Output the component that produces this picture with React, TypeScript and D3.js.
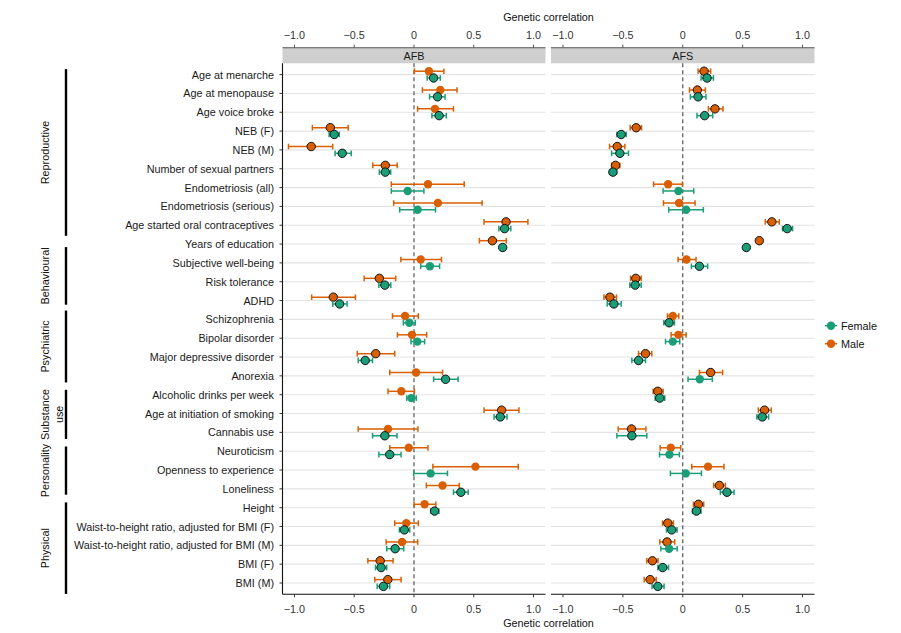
import React from "react";
import * as d3 from "d3";

const traits = [
  "Age at menarche", "Age at menopause", "Age voice broke", "NEB (F)", "NEB (M)",
  "Number of sexual partners", "Endometriosis (all)", "Endometriosis (serious)",
  "Age started oral contraceptives", "Years of education", "Subjective well-being",
  "Risk tolerance", "ADHD", "Schizophrenia", "Bipolar disorder", "Major depressive disorder",
  "Anorexia", "Alcoholic drinks per week", "Age at initiation of smoking", "Cannabis use",
  "Neuroticism", "Openness to experience", "Loneliness", "Height",
  "Waist-to-height ratio, adjusted for BMI (F)", "Waist-to-height ratio, adjusted for BMI (M)",
  "BMI (F)", "BMI (M)",
];

// [estimate, lower, upper, significant]
const afbMale: number[][] = [
  [0.125, 0.003, 0.25, 0], [0.22, 0.07, 0.36, 0], [0.175, 0.03, 0.33, 0],
  [-0.7, -0.85, -0.55, 1], [-0.86, -1.05, -0.68, 1], [-0.24, -0.345, -0.14, 1],
  [0.117, -0.19, 0.42, 0], [0.2, -0.17, 0.57, 0], [0.77, 0.586, 0.953, 1],
  [0.656, 0.547, 0.772, 1], [0.056, -0.11, 0.23, 0], [-0.29, -0.417, -0.153, 1],
  [-0.675, -0.856, -0.49, 1], [-0.075, -0.18, 0.036, 0], [-0.017, -0.139, 0.106, 0],
  [-0.32, -0.475, -0.161, 1], [0.017, -0.203, 0.239, 0], [-0.106, -0.217, 0.003, 0],
  [0.733, 0.586, 0.878, 1], [-0.217, -0.467, 0.033, 0], [-0.044, -0.203, 0.117, 0],
  [0.514, 0.158, 0.872, 0], [0.239, 0.103, 0.378, 0], [0.089, 0.0, 0.183, 0],
  [-0.064, -0.161, 0.036, 0], [-0.1, -0.233, 0.031, 0], [-0.283, -0.386, -0.175, 1],
  [-0.219, -0.328, -0.108, 1],
];
const afbFemale: number[][] = [
  [0.164, 0.11, 0.22, 1], [0.197, 0.13, 0.26, 1], [0.21, 0.15, 0.27, 1],
  [-0.667, -0.71, -0.625, 1], [-0.6, -0.66, -0.525, 1], [-0.24, -0.29, -0.195, 1],
  [-0.053, -0.19, 0.083, 0], [0.03, -0.12, 0.18, 0], [0.758, 0.71, 0.81, 1],
  [0.742, 0.735, 0.75, 1], [0.133, 0.056, 0.214, 0], [-0.244, -0.294, -0.194, 1],
  [-0.622, -0.68, -0.56, 1], [-0.039, -0.089, 0.011, 0], [0.028, -0.025, 0.089, 0],
  [-0.408, -0.467, -0.347, 1], [0.264, 0.164, 0.369, 1], [-0.022, -0.061, 0.019, 0],
  [0.722, 0.67, 0.778, 1], [-0.244, -0.347, -0.142, 1], [-0.203, -0.294, -0.108, 1],
  [0.139, -0.003, 0.28, 0], [0.392, 0.33, 0.453, 1], [0.172, 0.142, 0.208, 1],
  [-0.081, -0.122, -0.036, 1], [-0.158, -0.228, -0.086, 1], [-0.275, -0.322, -0.228, 1],
  [-0.256, -0.308, -0.203, 1],
];
const afsMale: number[][] = [
  [0.178, 0.128, 0.233, 1], [0.122, 0.056, 0.189, 1], [0.269, 0.214, 0.336, 1],
  [-0.389, -0.439, -0.344, 1], [-0.547, -0.611, -0.483, 1], [-0.561, -0.594, -0.525, 1],
  [-0.122, -0.244, -0.003, 0], [-0.031, -0.161, 0.103, 0], [0.744, 0.689, 0.806, 1],
  [0.639, 0.632, 0.646, 1], [0.031, -0.039, 0.111, 0], [-0.392, -0.436, -0.347, 1],
  [-0.608, -0.658, -0.553, 1], [-0.083, -0.128, -0.033, 0], [-0.036, -0.097, 0.028, 0],
  [-0.311, -0.369, -0.258, 1], [0.233, 0.139, 0.333, 1], [-0.208, -0.247, -0.164, 1],
  [0.683, 0.631, 0.739, 1], [-0.428, -0.539, -0.308, 1], [-0.1, -0.189, -0.017, 0],
  [0.211, 0.075, 0.344, 0], [0.306, 0.258, 0.356, 1], [0.131, 0.089, 0.175, 1],
  [-0.125, -0.169, -0.078, 1], [-0.131, -0.192, -0.067, 1], [-0.253, -0.3, -0.206, 1],
  [-0.272, -0.322, -0.222, 1],
];
const afsFemale: number[][] = [
  [0.203, 0.153, 0.256, 1], [0.128, 0.064, 0.194, 1], [0.183, 0.119, 0.25, 1],
  [-0.514, -0.55, -0.472, 1], [-0.525, -0.594, -0.453, 1], [-0.583, -0.611, -0.553, 1],
  [-0.036, -0.164, 0.092, 0], [0.028, -0.117, 0.172, 0], [0.872, 0.833, 0.917, 1],
  [0.531, 0.525, 0.537, 1], [0.139, 0.072, 0.208, 1], [-0.397, -0.442, -0.347, 1],
  [-0.575, -0.631, -0.514, 1], [-0.114, -0.158, -0.069, 1], [-0.083, -0.144, -0.025, 0],
  [-0.369, -0.425, -0.311, 1], [0.142, 0.044, 0.247, 0], [-0.192, -0.231, -0.15, 1],
  [0.664, 0.619, 0.717, 1], [-0.425, -0.55, -0.3, 1], [-0.111, -0.194, -0.028, 0],
  [0.025, -0.103, 0.156, 0], [0.369, 0.314, 0.428, 1], [0.114, 0.081, 0.153, 1],
  [-0.092, -0.136, -0.047, 1], [-0.114, -0.183, -0.047, 0], [-0.167, -0.208, -0.119, 1],
  [-0.208, -0.256, -0.156, 1],
];

const groupNames = [["Reproductive"], ["Behavioural"], ["Psychiatric"], ["Substance", "use"], ["Personality"], ["Physical"]];
const groupStart = [-0.29, 9.16, 12.53, 16.74, 19.75, 22.72];
const groupEnd = [8.56, 12.22, 16.35, 19.35, 22.31, 27.58];

const xTicks = [-1, -0.5, 0, 0.5, 1];
const panels = ["AFB", "AFS"];
const seriesNames = ["Female", "Male"];
const colors = { Female: "#1B9E77", Male: "#D95F02" };

const FONT = "'Liberation Sans', Arial, Helvetica, sans-serif";
const FS = 10.8;
const fmt = (v: number) => (v === 0 ? "0" : (v < 0 ? "\u2212" : "") + Math.abs(v).toFixed(1));

export default function App() {
  const W = 901, H = 633;
  const top = 63.3, bottom = 594.3;
  const stripTop = 47.7;
  const panelX = [[282.5, 545.5], [551, 814.5]];
  const y = d3.scaleLinear().domain([-0.6, traits.length - 1 + 0.6]).range([top, bottom]);
  const rowH = y(1) - y(0);
  const dodge = 0.18 * rowH;
  const capH = 0.3 * rowH;
  const panelData = [
    { Female: afbFemale, Male: afbMale },
    { Female: afsFemale, Male: afsMale },
  ];

  const renderSeries = (x: d3.ScaleLinear<number, number>, data: number[][], name: "Female" | "Male") => {
    const off = name === "Male" ? -dodge : dodge;
    const c = colors[name];
    return (
      <g key={name}>
        {data.map((d, i) => {
          const cy = y(i) + off;
          return (
            <g key={i}>
              <line x1={x(d[1])} x2={x(d[2])} y1={cy} y2={cy} stroke={c} strokeWidth={1.5} />
              <line x1={x(d[1])} x2={x(d[1])} y1={cy - capH / 2} y2={cy + capH / 2} stroke={c} strokeWidth={1.5} />
              <line x1={x(d[2])} x2={x(d[2])} y1={cy - capH / 2} y2={cy + capH / 2} stroke={c} strokeWidth={1.5} />
            </g>
          );
        })}
        {data.map((d, i) => (
          <circle key={"p" + i} cx={x(d[0])} cy={y(i) + off} r={4.2} fill={c}
            stroke={d[3] ? "#111" : "none"} strokeWidth={d[3] ? 1 : 0} />
        ))}
      </g>
    );
  };

  return (
    <div style={{ position: "absolute", left: 0, top: 0 }}>
      <svg width={W} height={H} style={{ display: "block", fontFamily: FONT }}>
        <rect width={W} height={H} fill="#fff" />
        {/* titles */}
        <text x={548.5} y={17} textAnchor="middle" dominantBaseline="central" fontSize={FS} fill="#111">Genetic correlation</text>
        <text x={548.5} y={623} textAnchor="middle" dominantBaseline="central" fontSize={FS} fill="#111">Genetic correlation</text>

        {panels.map((p, pi) => {
          const [x0, x1] = panelX[pi];
          const x = d3.scaleLinear().domain([-1.1, 1.1]).range([x0, x1]);
          return (
            <g key={p}>
              {/* grid */}
              {traits.map((t, i) => (
                <line key={t} x1={x0} x2={x1} y1={y(i)} y2={y(i)} stroke="#E3E3E3" strokeWidth={1.1} />
              ))}
              {/* strip */}
              <rect x={x0} y={stripTop} width={x1 - x0} height={top - stripTop} fill="#CFCFCF" />
              <text x={(x0 + x1) / 2} y={(stripTop + top) / 2 + 0.5} textAnchor="middle" dominantBaseline="central" fontSize={FS} fill="#1a1a1a">{p}</text>
              {/* top axis */}
              <line x1={x0} x2={x1} y1={stripTop} y2={stripTop} stroke="#555" strokeWidth={1.1} />
              {xTicks.map((v) => (
                <g key={"t" + v}>
                  <line x1={x(v)} x2={x(v)} y1={stripTop - 3} y2={stripTop} stroke="#555" strokeWidth={1} />
                  <text x={x(v)} y={35} textAnchor="middle" dominantBaseline="central" fontSize={FS} fill="#333">{fmt(v)}</text>
                </g>
              ))}
              {/* bottom axis */}
              <line x1={x0} x2={x1} y1={bottom} y2={bottom} stroke="#111" strokeWidth={1.1} />
              {xTicks.map((v) => (
                <g key={"b" + v}>
                  <line x1={x(v)} x2={x(v)} y1={bottom} y2={bottom + 3} stroke="#333" strokeWidth={1} />
                  <text x={x(v)} y={608.5} textAnchor="middle" dominantBaseline="central" fontSize={FS} fill="#333">{fmt(v)}</text>
                </g>
              ))}
              {/* zero line */}
              <line x1={x(0)} x2={x(0)} y1={top} y2={bottom} stroke="#555" strokeWidth={1.2} strokeDasharray="4,3" />
              {renderSeries(x, panelData[pi].Male, "Male")}
              {renderSeries(x, panelData[pi].Female, "Female")}
            </g>
          );
        })}

        {/* left axis */}
        <line x1={panelX[0][0]} x2={panelX[0][0]} y1={top} y2={bottom} stroke="#111" strokeWidth={1.1} />
        {traits.map((t, i) => (
          <g key={"l" + i}>
            <line x1={panelX[0][0] - 3} x2={panelX[0][0]} y1={y(i)} y2={y(i)} stroke="#333" strokeWidth={1} />
            <text x={274} y={y(i)} textAnchor="end" dominantBaseline="central" fontSize={FS} fill="#1a1a1a">{t}</text>
          </g>
        ))}

        {/* groups */}
        {groupNames.map((g, gi) => {
          const y0 = y(groupStart[gi]), y1 = y(groupEnd[gi]);
          const mid = (y0 + y1) / 2;
          return (
            <g key={"g" + gi}>
              <line x1={66} x2={66} y1={y0} y2={y1} stroke="#000" strokeWidth={2.4} />
              {g.map((line, li) => (
                <text key={li} transform={`translate(${45 + li * 14},${mid}) rotate(-90)`} textAnchor="middle"
                  dominantBaseline="central" fontSize={FS} fill="#111">{line}</text>
              ))}
            </g>
          );
        })}

        {/* legend */}
        {seriesNames.map((s, si) => {
          const ly = 325.7 + si * 18;
          const c = colors[s as "Female" | "Male"];
          return (
            <g key={s}>
              <line x1={825} x2={837} y1={ly} y2={ly} stroke={c} strokeWidth={1.5} />
              <circle cx={831} cy={ly} r={4.2} fill={c} />
              <text x={841} y={ly} dominantBaseline="central" fontSize={FS} fill="#111">{s}</text>
            </g>
          );
        })}
      </svg>
    </div>
  );
}
